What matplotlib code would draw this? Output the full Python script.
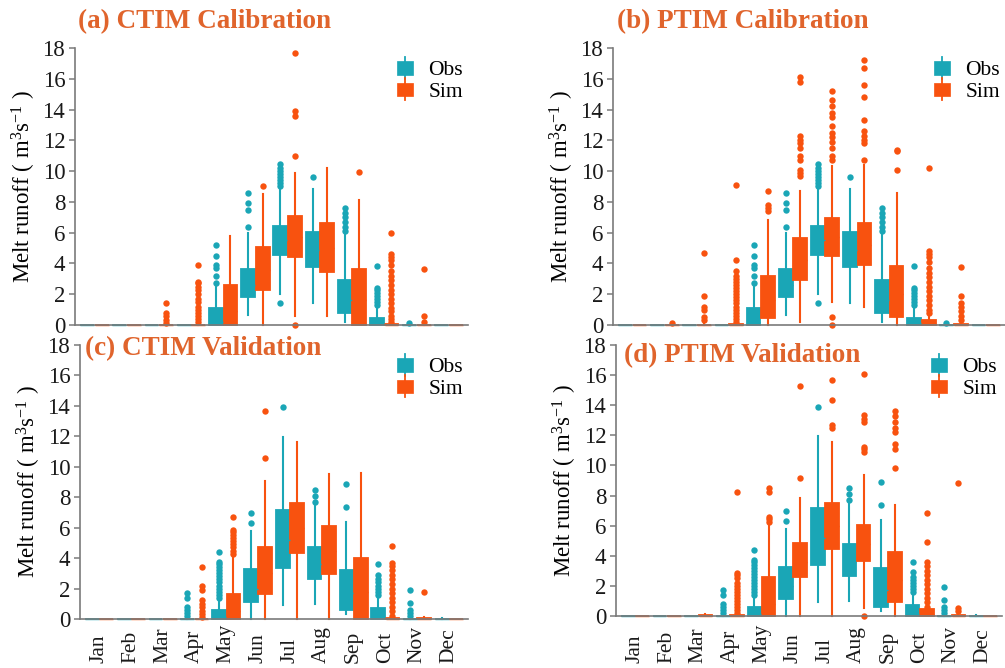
import matplotlib
matplotlib.use("Agg")
import matplotlib.pyplot as plt
from matplotlib.patches import Rectangle, Patch
from matplotlib.lines import Line2D
from matplotlib.legend_handler import HandlerBase

plt.rcParams['font.family'] = ['Liberation Serif', 'DejaVu Serif']
plt.rcParams['mathtext.fontset'] = 'custom'
plt.rcParams['mathtext.rm'] = 'Liberation Serif'
plt.rcParams['mathtext.it'] = 'Liberation Serif:italic'
plt.rcParams['mathtext.bf'] = 'Liberation Serif:bold'

months = ['Jan', 'Feb', 'Mar', 'Apr', 'May', 'Jun', 'Jul', 'Aug', 'Sep', 'Oct', 'Nov', 'Dec']
yticks = [0, 2, 4, 6, 8, 10, 12, 14, 16, 18]
titles = ['(a) CTIM Calibration', '(b) PTIM Calibration', '(c) CTIM Validation', '(d) PTIM Validation']
series_labels = ['Obs', 'Sim']

# Box statistics per month: [whisker_low, q1, median, q3, whisker_high]
cal_obs_box = [[0, 0, 0, 0, 0], [0, 0, 0, 0, 0], [0, 0, 0, 0, 0], [0, 0, 0, 0, 0],
               [0, 0, 0.2, 1.1, 2.5], [0.65, 1.8, 2.6, 3.65, 6.0], [2.0, 4.55, 5.5, 6.45, 8.9],
               [1.45, 3.8, 4.9, 6.05, 8.85], [0.2, 0.8, 1.6, 2.9, 5.9], [0, 0, 0.1, 0.45, 1.1],
               [0, 0, 0, 0, 0.03], [0, 0, 0, 0, 0]]
cal_obs_fliers = [[], [], [], [], [2.7, 3.2, 3.7, 3.9, 4.5, 5.2], [6.35, 7.45, 7.9, 8.6],
                  [1.4, 9.0, 9.2, 9.4, 9.6, 9.8, 10.0, 10.2, 10.45], [9.6],
                  [6.1, 6.4, 6.7, 7.0, 7.3, 7.6], [1.3, 1.5, 1.7, 1.9, 2.1, 2.3, 2.4, 3.85],
                  [0.15], []]

a_sim_box = [[0, 0, 0, 0, 0], [0, 0, 0, 0, 0], [0, 0, 0, 0, 0.02], [0, 0, 0, 0.02, 0.05],
             [0, 0, 0.9, 2.6, 5.8], [0, 2.3, 3.6, 5.1, 8.5], [0.6, 4.4, 5.7, 7.1, 9.9],
             [0.6, 3.45, 5.0, 6.65, 10.2], [0, 0, 1.6, 3.65, 8.1], [0, 0, 0, 0.05, 0.1],
             [0, 0, 0, 0.02, 0.05], [0, 0, 0, 0, 0]]
a_sim_fliers = [[], [], [0.15, 0.3, 0.6, 0.75, 1.4],
                [0.2, 0.4, 0.6, 0.8, 1.0, 1.2, 1.5, 1.7, 2.0, 2.3, 2.5, 2.7, 2.8, 3.9],
                [], [9.05], [0.0, 11.0, 13.6, 13.9, 17.7], [], [9.95],
                [0.2, 0.4, 0.6, 0.9, 1.1, 1.4, 1.7, 2.0, 2.3, 2.6, 2.9, 3.2, 3.5, 3.9, 4.2, 4.4, 4.6, 6.0],
                [0.2, 0.6, 3.65], []]

b_sim_box = [[0, 0, 0, 0, 0], [0, 0, 0, 0, 0.02], [0, 0, 0, 0, 0.05], [0, 0, 0, 0.05, 0.1],
             [0, 0.45, 1.6, 3.2, 6.8], [0.2, 2.95, 4.2, 5.65, 8.7], [1.5, 4.5, 5.7, 6.95, 10.3],
             [1.15, 3.9, 5.2, 6.6, 10.4], [0, 0.55, 2.0, 3.85, 8.6], [0, 0, 0.05, 0.3, 0.6],
             [0, 0, 0, 0.05, 0.15], [0, 0, 0, 0, 0]]
b_sim_fliers = [[], [0.1], [0.3, 0.5, 1.0, 1.2, 1.9, 4.7],
                [0.2, 0.4, 0.6, 0.8, 1.0, 1.2, 1.4, 1.6, 1.8, 2.0, 2.2, 2.4, 2.6, 2.8, 3.0, 3.2, 3.5, 4.2, 9.1],
                [7.4, 7.6, 7.8, 8.7],
                [9.7, 9.9, 10.1, 10.7, 11.0, 11.5, 11.8, 12.0, 12.3, 15.8, 16.1],
                [0.0, 0.5, 10.7, 11.0, 11.5, 11.9, 12.2, 12.5, 12.9, 13.5, 13.8, 14.2, 14.6, 15.2],
                [10.7, 11.8, 12.0, 12.3, 12.6, 13.3, 14.8, 15.6, 16.7, 17.2],
                [10.1, 11.3, 11.4],
                [0.8, 1.0, 1.3, 1.6, 1.9, 2.2, 2.5, 2.8, 3.1, 3.4, 3.7, 4.1, 4.4, 4.6, 4.8, 10.2],
                [0.3, 0.6, 0.9, 1.2, 1.4, 1.9, 3.75], []]

val_obs_box = [[0, 0, 0, 0, 0], [0, 0, 0, 0, 0], [0, 0, 0, 0, 0], [0, 0, 0, 0, 0.1],
               [0, 0, 0.1, 0.6, 1.2], [0, 1.12, 2.0, 3.27, 5.8], [0.92, 3.37, 5.2, 7.16, 11.97],
               [0.99, 2.63, 3.6, 4.75, 7.49], [0.33, 0.59, 1.7, 3.2, 6.4], [0, 0, 0.1, 0.7, 1.4],
               [0, 0, 0, 0, 0.05], [0, 0, 0, 0.02, 0.05]]
val_obs_fliers = [[], [], [], [0.2, 0.4, 0.6, 0.8, 1.4, 1.7],
                  [1.4, 1.6, 1.8, 2.0, 2.2, 2.4, 2.6, 2.8, 3.0, 3.2, 3.4, 3.6, 3.75, 4.4],
                  [6.33, 6.96], [13.9], [7.71, 8.1, 8.47], [7.34, 8.87],
                  [1.6, 1.8, 2.0, 2.2, 2.4, 2.6, 2.9, 3.61], [0.2, 0.4, 0.6, 1.03, 1.9], []]

c_sim_box = [[0, 0, 0, 0, 0], [0, 0, 0, 0, 0], [0, 0, 0, 0, 0], [0, 0, 0, 0, 0.05],
             [0, 0, 0.5, 1.64, 4.0], [0, 1.62, 3.0, 4.75, 9.07], [0, 4.36, 6.0, 7.64, 11.65],
             [0, 2.94, 4.5, 6.11, 9.5], [0, 0, 1.8, 4.0, 9.57], [0, 0, 0, 0.05, 0.1],
             [0, 0, 0, 0.05, 0.1], [0, 0, 0, 0, 0]]
c_sim_fliers = [[], [], [], [0.15, 0.35, 0.55, 0.8, 1.0, 1.25, 1.9, 2.2, 3.4],
                [4.3, 4.5, 4.7, 4.9, 5.1, 5.3, 5.5, 5.7, 5.85, 6.7], [10.56, 13.67], [], [], [],
                [0.2, 0.5, 0.8, 1.1, 1.4, 1.7, 2.0, 2.3, 2.6, 2.9, 3.2, 3.5, 3.7, 4.82], [1.75], []]

d_sim_box = [[0, 0, 0, 0, 0], [0, 0, 0, 0, 0], [0, 0, 0, 0.05, 0.1], [0, 0, 0, 0.05, 0.1],
             [0, 0, 0.8, 2.6, 6.2], [0, 2.57, 3.6, 4.83, 7.81], [0, 4.43, 6.0, 7.48, 11.57],
             [0.5, 3.67, 4.8, 6.04, 9.36], [0, 0.91, 2.4, 4.23, 7.37], [0, 0, 0.05, 0.45, 0.5],
             [0, 0, 0, 0.05, 0.1], [0, 0, 0, 0, 0]]
d_sim_fliers = [[], [], [], [0.2, 0.4, 0.6, 0.8, 1.0, 1.2, 1.4, 1.6, 1.8, 2.0, 2.2, 2.5, 2.7, 2.85, 8.26],
                [6.26, 6.45, 6.6, 8.25, 8.48], [9.19, 15.27], [12.46, 12.68, 14.34, 15.67],
                [0.0, 10.9, 11.1, 11.24, 12.9, 13.1, 13.35, 16.1],
                [9.8, 11.1, 11.4, 12.2, 12.5, 12.9, 13.3, 13.6],
                [0.6, 0.9, 1.2, 1.5, 1.8, 2.1, 2.4, 2.7, 3.0, 3.3, 3.6, 4.89, 6.82],
                [0.3, 0.5, 8.81], []]

obs_color = '#1AA6B6'
sim_color = '#F8520F'
title_color = '#E0642C'
spine_color = '#7A7A7A'

panels = [
    (cal_obs_box, cal_obs_fliers, a_sim_box, a_sim_fliers),
    (cal_obs_box, cal_obs_fliers, b_sim_box, b_sim_fliers),
    (val_obs_box, val_obs_fliers, c_sim_box, c_sim_fliers),
    (val_obs_box, val_obs_fliers, d_sim_box, d_sim_fliers),
]

# axes rectangles [left, bottom, width, height] in figure fraction
rects = [
    [75 / 1005, 1 - 325 / 668, 393 / 1005, 277 / 668],
    [613 / 1005, 1 - 325 / 668, 392 / 1005, 277 / 668],
    [80 / 1005, 1 - 619 / 668, 388 / 1005, 274 / 668],
    [616 / 1005, 1 - 616 / 668, 386 / 1005, 271 / 668],
]
title_pos = [(0.008, 1.072), (0.010, 1.072), (0.013, 0.963), (0.021, 0.937)]
month_label_bottom_px = 663


class HandlerBoxKey(HandlerBase):
    def create_artists(self, legend, orig_handle, xdescent, ydescent, width, height, fontsize, trans):
        color = orig_handle.get_facecolor()
        x0, y0 = -xdescent, -ydescent
        rect = Rectangle((x0, y0), width, height, facecolor=color, edgecolor=color, lw=0.5, transform=trans)
        line = Line2D([x0 + width / 2] * 2, [y0 - 0.3 * height, y0 + 1.3 * height],
                      color=color, lw=1.3, transform=trans)
        return [line, rect]


def make_stats(box, fliers):
    stats = []
    for b, f in zip(box, fliers):
        stats.append(dict(whislo=b[0], q1=b[1], med=b[2], q3=b[3], whishi=b[4], fliers=f))
    return stats


def draw_series(ax, box, fliers, offset, color):
    positions = [i + offset for i in range(len(months))]
    art = ax.bxp(make_stats(box, fliers), positions=positions, widths=0.43,
                 patch_artist=True, showcaps=False, manage_ticks=False,
                 boxprops=dict(facecolor=color, edgecolor=color, linewidth=1.3),
                 whiskerprops=dict(color=color, linewidth=1.5),
                 medianprops=dict(color=color, linewidth=1.0),
                 flierprops=dict(marker='o', markersize=4.6, markerfacecolor=color,
                                 markeredgecolor='none', linestyle='none'))
    for key in art:
        for a in art[key]:
            a.set_clip_on(False)


fig = plt.figure(figsize=(10.05, 6.68), dpi=100)
for k, (ob, of, sb, sf) in enumerate(panels):
    ax = fig.add_axes(rects[k])
    draw_series(ax, ob, of, -0.225, obs_color)
    draw_series(ax, sb, sf, 0.225, sim_color)
    ax.set_xlim(-0.6, len(months) - 0.4)
    ax.set_ylim(0, 18)
    ax.set_yticks(yticks)
    ax.set_yticklabels([str(v) for v in yticks], fontsize=16.5, color='#1a1a1a')
    ax.set_xticks(range(len(months)))
    if k >= 2:
        axis_px = (1 - rects[k][1]) * 668
        pad_pt = (month_label_bottom_px - axis_px) * 72 / 100
        ax.set_xticklabels(months, rotation=90, fontsize=15.5, color='#1a1a1a',
                           rotation_mode='anchor', ha='left', va='center')
        ax.tick_params(axis='x', length=0, pad=pad_pt)
    else:
        ax.set_xticklabels([])
        ax.tick_params(axis='x', length=0)
    ax.tick_params(axis='y', length=4, width=1.1, color=spine_color, pad=3)
    for s in ['top', 'right']:
        ax.spines[s].set_visible(False)
    for s in ['left', 'bottom']:
        ax.spines[s].set_color(spine_color)
        ax.spines[s].set_linewidth(1.2)
    ax.set_ylabel(r'Melt runoff ( $\mathrm{m^3s^{-1}}$ )', fontsize=16.5, labelpad=3)
    ax.text(title_pos[k][0], title_pos[k][1], titles[k], transform=ax.transAxes,
            fontsize=19.5, fontweight='bold', color=title_color, va='baseline', ha='left')
    handles = [Patch(facecolor=obs_color), Patch(facecolor=sim_color)]
    w_px = rects[k][2] * 1005
    h_px = rects[k][3] * 668
    ax.legend(handles, series_labels, handler_map={Patch: HandlerBoxKey()},
              loc='upper right', bbox_to_anchor=(1 - 5 / w_px, 1 - 13 / h_px), frameon=False,
              fontsize=15.5, handlelength=0.75, handleheight=0.6, labelspacing=0.1,
              handletextpad=0.7, borderpad=0, borderaxespad=0)

fig.savefig('out.png', dpi=100)
